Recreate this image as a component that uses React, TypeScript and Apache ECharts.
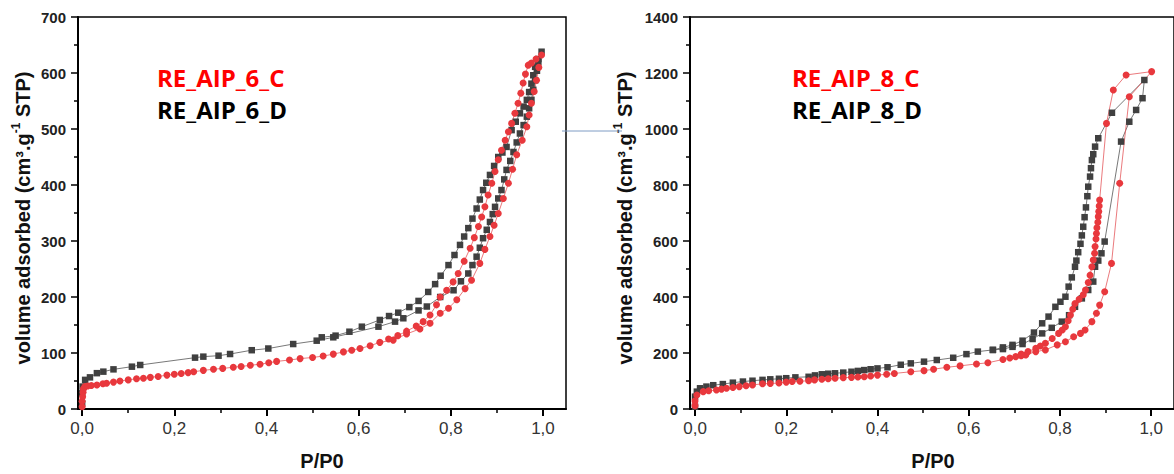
import React, { useEffect, useRef } from "react";
import * as echarts from "echarts";

type Pt = [number, number];

// ---------- tick values ----------
const xMajorTicks = [0, 0.2, 0.4, 0.6, 0.8, 1.0];
const xMinorTicks = [0.1, 0.3, 0.5, 0.7, 0.9];
const yMax6 = 700;
const yStep6 = 100;
const yMax8 = 1400;
const yStep8 = 200;

// ---------- labels ----------
const sampleNames6 = ["RE_AIP_6_C", "RE_AIP_6_D"];
const sampleNames8 = ["RE_AIP_8_C", "RE_AIP_8_D"];
const xTitle = "P/P0";

// ---------- RE_AIP_6_C (red circles) ----------
const c6Adsorption: Pt[] = [
  [0.0, 4], [0.0, 14], [0.001, 22], [0.002, 30], [0.003, 36], [0.006, 40], [0.012, 41], [0.02, 42],
  [0.032, 43], [0.045, 45], [0.053, 46], [0.068, 48], [0.082, 50], [0.1, 52], [0.118, 54], [0.133, 55],
  [0.148, 56.5], [0.165, 58], [0.184, 60.5], [0.2, 62], [0.215, 63.5], [0.23, 65], [0.242, 66.5],
  [0.263, 69], [0.285, 71], [0.305, 72.5], [0.328, 74.5], [0.345, 76], [0.365, 78], [0.386, 80],
  [0.405, 82.5], [0.422, 85], [0.45, 87.5], [0.473, 90], [0.5, 92], [0.523, 94.5], [0.545, 98],
  [0.567, 102], [0.585, 105], [0.603, 108], [0.625, 113], [0.646, 119], [0.675, 123], [0.704, 134],
  [0.733, 143], [0.755, 153], [0.777, 171], [0.795, 180], [0.813, 195], [0.831, 215], [0.845, 230],
  [0.863, 260], [0.874, 285], [0.885, 308], [0.894, 328], [0.903, 349], [0.914, 376], [0.925, 403],
  [0.934, 428], [0.943, 454], [0.955, 480], [0.965, 504], [0.97, 525], [0.975, 546], [0.981, 567],
  [0.986, 587], [0.991, 610], [0.997, 632],
];
const c6Desorption: Pt[] = [
  [0.997, 632], [0.985, 625], [0.975, 618], [0.968, 614], [0.962, 598], [0.957, 582], [0.952, 564],
  [0.946, 546], [0.939, 528], [0.932, 510], [0.925, 495], [0.918, 480], [0.91, 462], [0.903, 445],
  [0.896, 424], [0.889, 403], [0.881, 382], [0.874, 361], [0.867, 343], [0.86, 326], [0.851, 306],
  [0.842, 287], [0.829, 264], [0.816, 242], [0.805, 227], [0.791, 212], [0.777, 200], [0.769, 186],
  [0.755, 168], [0.74, 156], [0.725, 148], [0.704, 139], [0.685, 131], [0.665, 125],
];

// ---------- RE_AIP_6_D (dark grey squares) ----------
const d6Adsorption: Pt[] = [
  [0.0, 10], [0.0, 28], [0.001, 40], [0.0065, 52], [0.017, 56.5], [0.032, 64], [0.046, 66.7],
  [0.068, 70.8], [0.108, 75.6], [0.126, 78.6], [0.245, 91.7], [0.263, 93.5], [0.296, 95.2],
  [0.321, 98.2], [0.368, 105], [0.404, 108], [0.458, 116], [0.509, 122], [0.545, 128], [0.643, 147],
  [0.679, 156], [0.697, 162], [0.73, 176], [0.748, 183], [0.777, 200], [0.806, 212], [0.822, 228],
  [0.838, 242], [0.847, 257], [0.856, 272], [0.863, 288], [0.87, 305], [0.878, 320], [0.885, 334],
  [0.891, 348], [0.896, 361], [0.903, 376], [0.91, 391], [0.916, 410], [0.921, 427], [0.929, 443],
  [0.936, 459], [0.943, 476], [0.95, 492], [0.958, 507], [0.965, 522], [0.97, 537], [0.975, 552],
  [0.979, 570], [0.983, 587], [0.987, 604], [0.99, 620], [0.997, 638],
];
const d6Desorption: Pt[] = [
  [0.997, 638], [0.99, 625], [0.983, 611], [0.979, 596], [0.975, 581], [0.97, 566], [0.965, 552],
  [0.958, 540], [0.95, 528], [0.941, 513], [0.932, 498], [0.921, 468], [0.912, 458], [0.903, 450],
  [0.894, 434], [0.885, 418], [0.877, 404], [0.87, 391], [0.863, 374], [0.856, 358], [0.847, 340],
  [0.838, 323], [0.829, 308], [0.82, 293], [0.808, 275], [0.795, 257], [0.778, 238], [0.766, 223],
  [0.751, 209], [0.73, 193], [0.71, 182], [0.686, 172], [0.666, 166], [0.646, 159], [0.607, 147],
  [0.58, 138], [0.55, 131], [0.52, 128],
];

// ---------- RE_AIP_8_C (red circles) ----------
const c8Adsorption: Pt[] = [
  [0.0, 12], [0.0, 29], [0.004, 50], [0.018, 62], [0.03, 65], [0.047, 68], [0.058, 71], [0.069, 74],
  [0.083, 77], [0.097, 80], [0.112, 83], [0.126, 86], [0.148, 90], [0.165, 91], [0.184, 93],
  [0.2, 96], [0.213, 98], [0.23, 99], [0.249, 101], [0.262, 104], [0.278, 106], [0.292, 108],
  [0.307, 110], [0.325, 112], [0.343, 113], [0.357, 114], [0.371, 115], [0.385, 118], [0.4, 121],
  [0.42, 124], [0.437, 127], [0.473, 133], [0.502, 137], [0.523, 142], [0.552, 149], [0.581, 154],
  [0.617, 161], [0.642, 165], [0.675, 177], [0.69, 182], [0.703, 187], [0.715, 190], [0.725, 193],
  [0.747, 205], [0.768, 211], [0.794, 229], [0.812, 240], [0.83, 258], [0.845, 270], [0.855, 282],
  [0.87, 312], [0.88, 342], [0.887, 371], [0.898, 419], [0.913, 520], [0.931, 806], [0.952, 1115],
  [1.001, 1205],
];
const c8Desorption: Pt[] = [
  [1.001, 1205], [0.945, 1193], [0.917, 1139], [0.902, 1020], [0.887, 746], [0.886, 725],
  [0.885, 705], [0.884, 687], [0.883, 667], [0.881, 647], [0.88, 627], [0.879, 607], [0.877, 580],
  [0.876, 556], [0.873, 532], [0.87, 508], [0.866, 478], [0.862, 452], [0.856, 425], [0.851, 408],
  [0.842, 392], [0.833, 377], [0.828, 356], [0.823, 336], [0.818, 315], [0.812, 294], [0.805, 282],
  [0.797, 270], [0.783, 252], [0.768, 235], [0.757, 225], [0.747, 217], [0.73, 205], [0.715, 196],
];

// ---------- RE_AIP_8_D (dark grey squares) ----------
const d8Adsorption: Pt[] = [
  [0.0, 8], [0.0, 44], [0.004, 62], [0.011, 74], [0.025, 80], [0.04, 85], [0.061, 89], [0.083, 94],
  [0.105, 98], [0.126, 101], [0.148, 104], [0.165, 106], [0.184, 108], [0.2, 110], [0.22, 113],
  [0.249, 115], [0.263, 120], [0.278, 124], [0.292, 126], [0.307, 127.5], [0.325, 130], [0.343, 133],
  [0.357, 136], [0.371, 139], [0.385, 142], [0.4, 145], [0.422, 149], [0.451, 158], [0.473, 163],
  [0.502, 169], [0.53, 175], [0.566, 183], [0.595, 196], [0.62, 205], [0.653, 211], [0.675, 214],
  [0.696, 222], [0.718, 232], [0.74, 250], [0.761, 270], [0.782, 290], [0.804, 312], [0.82, 335],
  [0.833, 365], [0.848, 395], [0.862, 425], [0.873, 455], [0.877, 508], [0.884, 530], [0.891, 556],
  [0.898, 598], [0.934, 955], [0.952, 1026], [0.967, 1068], [0.981, 1110], [0.985, 1175],
];
const d8Desorption: Pt[] = [
  [0.985, 1175], [0.914, 1058], [0.884, 967], [0.877, 937], [0.873, 910], [0.87, 889], [0.868, 860],
  [0.866, 830], [0.862, 794], [0.86, 760], [0.857, 720], [0.854, 685], [0.851, 651], [0.848, 620],
  [0.845, 590], [0.84, 560], [0.836, 530], [0.833, 508], [0.826, 470], [0.819, 437], [0.812, 401],
  [0.801, 383], [0.79, 365], [0.775, 330], [0.761, 306], [0.743, 273], [0.718, 244], [0.696, 229],
  [0.675, 220], [0.653, 211],
];

const RED = "#e8383d";
const RED_LINE = "#e5585c";
const GREY = "#404040";
const GREY_LINE = "#555555";
const FONT = "'Liberation Sans', Arial, sans-serif";

const fmtX = (v: number) => v.toFixed(1).replace(".", ",");

function xAxes(grid: number, min: number): any[] {
  return [
    {
      gridIndex: grid,
      type: "value",
      min,
      max: 1.05,
      position: "bottom",
      axisLine: { onZero: false, lineStyle: { color: "#000", width: 2 } },
      axisTick: { customValues: xMajorTicks, length: 7, lineStyle: { color: "#000", width: 2 } },
      axisLabel: {
        customValues: xMajorTicks,
        formatter: fmtX,
        fontSize: 17,
        color: "#333",
        margin: 11,
        fontFamily: FONT,
      },
      splitLine: { show: false },
    },
    {
      gridIndex: grid,
      type: "value",
      min,
      max: 1.05,
      position: "bottom",
      axisLine: { show: false, onZero: false },
      axisTick: { customValues: xMinorTicks, length: 4, lineStyle: { color: "#000", width: 1.5 } },
      axisLabel: { show: false },
      splitLine: { show: false },
    },
  ];
}

function yAxis(grid: number, max: number, step: number): any {
  return {
    gridIndex: grid,
    type: "value",
    min: 0,
    max,
    interval: step,
    axisLine: { show: true, onZero: false, lineStyle: { color: "#000", width: 2 } },
    axisTick: { show: true, length: 7, lineStyle: { color: "#000", width: 1.5 } },
    minorTick: { show: true, splitNumber: 2, length: 4, lineStyle: { color: "#000", width: 1.5 } },
    axisLabel: {
      fontWeight: "bold",
      fontSize: 15,
      color: "#222",
      margin: 12,
      fontFamily: FONT,
      formatter: (v: number) => String(v),
    },
    splitLine: { show: false },
    minorSplitLine: { show: false },
  };
}

function curve(name: string, xi: number, yi: number, ads: Pt[], des: Pt[], isRed: boolean): any {
  return {
    name,
    type: "line",
    xAxisIndex: xi,
    yAxisIndex: yi,
    data: [...ads, ...des.slice(1)],
    symbol: isRed ? "circle" : "rect",
    symbolSize: isRed ? 7 : 6.5,
    showSymbol: true,
    itemStyle: { color: isRed ? RED : GREY },
    lineStyle: { color: isRed ? RED_LINE : GREY_LINE, width: 0.8 },
    clip: false,
  };
}

function yTitle(x: number, y: number): any {
  return {
    type: "text",
    x,
    y,
    rotation: Math.PI / 2,
    style: {
      text: "{a|volume adsorbed (cm³.g}{s|-1}{a| STP)}",
      align: "center",
      verticalAlign: "middle",
      rich: {
        a: { fontSize: 20, fontWeight: "bold", fontFamily: FONT, fill: "#111", lineHeight: 26, verticalAlign: "middle" },
        s: { fontSize: 12, fontWeight: "bold", fontFamily: FONT, fill: "#111", lineHeight: 26, verticalAlign: "top" },
      },
    },
  };
}

function legendText(x: number, y: number, text: string, color: string): any {
  return {
    type: "text",
    x,
    y,
    style: {
      text,
      fill: color,
      font: "bold 24px 'Open Sans', sans-serif",
      align: "left",
      verticalAlign: "middle",
    },
  };
}

export default function App() {
  const ref = useRef<HTMLDivElement>(null);
  useEffect(() => {
    if (!ref.current) return;
    const chart = echarts.init(ref.current, null, { renderer: "svg" });
    const option: any = {
      animation: false,
      backgroundColor: "#fff",
      textStyle: { fontFamily: FONT },
      grid: [
        { left: 78, top: 17, width: 488, height: 392, show: true, borderColor: "#000", borderWidth: 1.5, backgroundColor: "transparent" },
        { left: 690, top: 17, width: 488, height: 392, show: true, borderColor: "#000", borderWidth: 1.5, backgroundColor: "transparent" },
      ],
      xAxis: [...xAxes(0, -0.009), ...xAxes(1, -0.011)],
      yAxis: [yAxis(0, yMax6, yStep6), yAxis(1, yMax8, yStep8)],
      series: [
        curve(sampleNames6[1], 0, 0, d6Adsorption, d6Desorption, false),
        curve(sampleNames6[0], 0, 0, c6Adsorption, c6Desorption, true),
        curve(sampleNames8[1], 2, 1, d8Adsorption, d8Desorption, false),
        curve(sampleNames8[0], 2, 1, c8Adsorption, c8Desorption, true),
      ],
      graphic: [
        yTitle(23, 218),
        yTitle(625, 218),
        { type: "text", x: 322, y: 461, style: { text: xTitle, font: `bold 20px ${FONT}`, fill: "#111", align: "center", verticalAlign: "middle" } },
        { type: "text", x: 933, y: 461, style: { text: xTitle, font: `bold 20px ${FONT}`, fill: "#111", align: "center", verticalAlign: "middle" } },
        legendText(157, 77, sampleNames6[0], "#ff0000"),
        legendText(157, 109, sampleNames6[1], "#000000"),
        legendText(792, 77, sampleNames8[0], "#ff0000"),
        legendText(792, 109, sampleNames8[1], "#000000"),
        { type: "line", shape: { x1: 562, y1: 131, x2: 622, y2: 131 }, style: { stroke: "#7f9cc4", lineWidth: 1 } },
      ],
    };
    chart.setOption(option);
    return () => chart.dispose();
  }, []);
  return (
    <div
      ref={ref}
      style={{ position: "fixed", left: 0, top: 0, width: 1174, height: 474, background: "#fff" }}
    />
  );
}
